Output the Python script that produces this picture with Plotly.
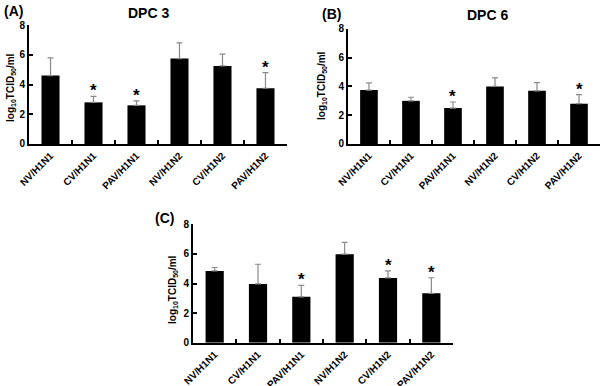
import plotly.graph_objects as go

categories = ["NV/H1N1", "CV/H1N1", "PAV/H1N1", "NV/H1N2", "CV/H1N2", "PAV/H1N2"]

dpc3_mean = [4.6, 2.8, 2.6, 5.75, 5.25, 3.75]
dpc3_err = [1.2, 0.4, 0.3, 1.05, 0.8, 1.05]
dpc3_sig = [False, True, True, False, False, True]

dpc6_mean = [3.75, 3.0, 2.5, 4.0, 3.7, 2.8]
dpc6_err = [0.5, 0.25, 0.42, 0.6, 0.57, 0.63]
dpc6_sig = [False, False, True, False, False, True]

dpcC_mean = [4.85, 3.97, 3.1, 5.98, 4.38, 3.34]
dpcC_err = [0.23, 1.33, 0.77, 0.8, 0.47, 1.05]
dpcC_sig = [False, False, True, False, True, True]

y_ticks = [0, 2, 4, 6, 8]

FONT = "Liberation Sans, Arial, sans-serif"

panels = [
    dict(mean=dpc3_mean, err=dpc3_err, sig=dpc3_sig, xd=[0.0482, 0.4767], yd=[0.627, 0.935]),
    dict(mean=dpc6_mean, err=dpc6_err, sig=dpc6_sig, xd=[0.578, 0.9967], yd=[0.627, 0.925]),
    dict(mean=dpcC_mean, err=dpcC_err, sig=dpcC_sig, xd=[0.3206, 0.7525], yd=[0.112, 0.419]),
]

fig = go.Figure()
annotations = []
for i, p in enumerate(panels):
    suffix = "" if i == 0 else str(i + 1)
    fig.add_trace(go.Bar(
        x=categories, y=p["mean"],
        marker=dict(color="black", line=dict(width=0)),
        error_y=dict(type="data", symmetric=False, array=p["err"],
                     arrayminus=[0] * len(p["err"]),
                     color="#8a8a8a", thickness=1.2, width=3),
        xaxis="x" + suffix, yaxis="y" + suffix,
        showlegend=False, hoverinfo="skip",
    ))
    for c, m, e, s in zip(categories, p["mean"], p["err"], p["sig"]):
        if s:
            annotations.append(dict(
                x=c, y=m + e, xref="x" + suffix, yref="y" + suffix,
                text="<b>*</b>", showarrow=False, yanchor="bottom", xanchor="center",
                yshift=-6, font=dict(size=17, color="black", family=FONT),
            ))
    axis_common = dict(showline=True, linecolor="black", linewidth=2,
                       ticks="inside", ticklen=4, tickwidth=1.5, tickcolor="black",
                       showgrid=False, zeroline=False, automargin=False)
    fig.update_layout(**{
        "xaxis" + suffix: dict(domain=p["xd"], anchor="y" + suffix, type="category",
                               tickson="boundaries", tickangle=-45,
                               tickfont=dict(size=10, color="black", family=FONT, weight="bold"),
                               **axis_common),
        "yaxis" + suffix: dict(domain=p["yd"], anchor="x" + suffix, range=[0, 8],
                               tickvals=y_ticks,
                               tickfont=dict(size=10, color="black", family=FONT, weight="bold"),
                               **axis_common),
    })

ytitle = "<b>log<sub>10</sub>TCID<sub>50</sub>/ml</b>"
for (x, y) in [(11, 88), (322, 85), (173, 290)]:
    annotations.append(dict(x=x / 602, y=1 - y / 386, xref="paper", yref="paper",
                            text=ytitle, textangle=-90, showarrow=False,
                            xanchor="center", yanchor="middle",
                            font=dict(size=10, color="black", family=FONT)))

for (txt, x, y) in [("(A)", 13, 11), ("DPC 3", 148, 13), ("(B)", 331, 14),
                    ("DPC 6", 487, 15), ("(C)", 164, 218)]:
    annotations.append(dict(x=x / 602, y=1 - y / 386, xref="paper", yref="paper",
                            text="<b>" + txt + "</b>", showarrow=False,
                            xanchor="center", yanchor="middle",
                            font=dict(size=14, color="black", family=FONT)))

fig.update_layout(
    template="none",
    width=602, height=386,
    margin=dict(l=0, r=0, t=0, b=0),
    paper_bgcolor="white", plot_bgcolor="white",
    bargap=0.58,
    annotations=annotations,
)

fig.write_html(
    "out.html",
    config={"displayModeBar": False},
    post_script="document.body.style.margin='0';document.body.style.padding='0';",
)
